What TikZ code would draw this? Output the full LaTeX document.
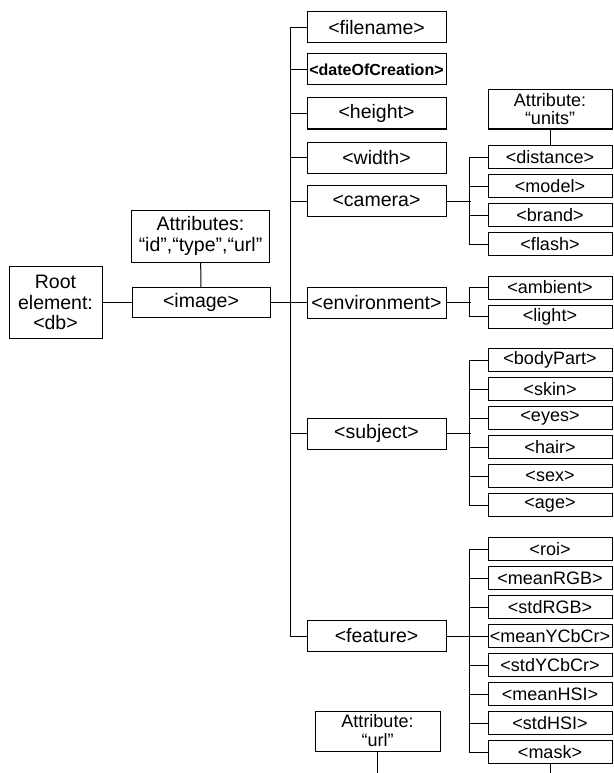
\documentclass[tikz,border=0pt]{standalone}
\usepackage{fontspec}
\setmainfont{Liberation Sans}
\usetikzlibrary{positioning}

\begin{document}
\begin{tikzpicture}[x=1pt, y=-1pt, line width=1pt, node distance=5pt,
  every node/.style={font=\fontsize{19.5}{20.5}\selectfont},
  elem/.style={draw, inner sep=0pt, minimum width=139pt, minimum height=31pt, align=center},
  leaf/.style={draw, inner sep=0pt, minimum width=124pt, minimum height=23pt, font=\fontsize{18}{18}\selectfont},
  attrbox/.style={draw, inner sep=0pt, align=center}]
\useasboundingbox (0,0) rectangle (613,773);

% root, attributes and image
\node[attrbox, minimum width=93pt, minimum height=72pt] (root) at (55.5,302.5) {Root\\element:\\<db>};
\node[attrbox, minimum width=138pt, minimum height=52pt] (attr) at (200.5,236) {Attributes:\\“id”,“type”,“url”};
\node[elem, minimum width=138pt, minimum height=30pt] (img) at (201,302.5) {<image>};

% children of image
\node[elem] (fn) at (376.5,27.5) {<filename>};
\node[elem, font=\bfseries\fontsize{16}{18}\selectfont] (doc) at (376.5,69.5) {<dateOfCreation>};
\node[elem] (hgt) at (376.5,113.5) {<height>};
\node[elem] (wid) at (376.5,157.5) {<width>};
\node[elem] (cam) at (376.5,201) {<camera>};
\node[elem] (env) at (376.5,302.5) {<environment>};
\node[elem] (subj) at (376.5,433.5) {<subject>};
\node[elem] (feat) at (376.5,636) {<feature>};

% camera
\node[attrbox, minimum width=124pt, minimum height=39pt, font=\fontsize{18}{18}\selectfont] (units) at (550,109.5) {Attribute:\\“units”};
\node[leaf] (dist) at (550,157) {<distance>};
\node[leaf, below=of dist] (model) {<model>};
\node[leaf, below=of model] (brand) {<brand>};
\node[leaf, below=of brand] (flash) {<flash>};

% environment
\node[leaf] (amb) at (550,287.5) {<ambient>};
\node[leaf, below=of amb] (light) {<light>};

% subject
\node[leaf] (body) at (550,360) {<bodyPart>};
\node[leaf, below=of body] (skin) {<skin>};
\node[leaf, below=of skin] (eyes) {<eyes>};
\node[leaf, below=of eyes] (hair) {<hair>};
\node[leaf, below=of hair] (sex) {<sex>};
\node[leaf, below=of sex] (age) {<age>};

% feature
\node[leaf] (roi) at (550,549) {<roi>};
\node[leaf, below=of roi] (mrgb) {<meanRGB>};
\node[leaf, below=of mrgb] (srgb) {<stdRGB>};
\node[leaf, below=of srgb] (mycc) {<meanYCbCr>};
\node[leaf, below=of mycc] (sycc) {<stdYCbCr>};
\node[leaf, below=of sycc] (mhsi) {<meanHSI>};
\node[leaf, below=of mhsi] (shsi) {<stdHSI>};
\node[leaf, below=of shsi] (mask) {<mask>};

\node[attrbox, minimum width=125pt, minimum height=40pt, font=\fontsize{18}{19}\selectfont] (url) at (377.5,731) {Attribute:\\“url”};
\coordinate (urlend) at (377.5,773);
\coordinate (maskend) at (550,773);

% connectors
\draw (root) -- (img);
\draw (attr) -- (img);
\draw (img) -- (env);
\draw (fn.west) -- ++(-16,0) |- (feat.west);
\draw (doc.west) -- ++(-16,0);
\draw (hgt.west) -- ++(-16,0);
\draw (wid.west) -- ++(-16,0);
\draw (cam.west) -- ++(-16,0);
\draw (subj.west) -- ++(-16,0);

\draw (cam.east) -- ++(24,0);
\draw (units) -- (dist);
\draw (dist.west) -- ++(-18,0) |- (flash.west);
\draw (model.west) -- ++(-18,0);
\draw (brand.west) -- ++(-18,0);

\draw (env.east) -- ++(24,0);
\draw (amb.west) -- ++(-18,0) |- (light.west);

\draw (subj.east) -- ++(24,0);
\draw (body.west) -- ++(-18,0) |- (age.west);
\draw (skin.west) -- ++(-18,0);
\draw (eyes.west) -- ++(-18,0);
\draw (hair.west) -- ++(-18,0);
\draw (sex.west) -- ++(-18,0);

\draw (feat.east) -- ++(24,0);
\draw (roi.west) -- ++(-18,0) |- (mask.west);
\draw (mrgb.west) -- ++(-18,0);
\draw (srgb.west) -- ++(-18,0);
\draw (mycc.west) -- ++(-18,0);
\draw (sycc.west) -- ++(-18,0);
\draw (mhsi.west) -- ++(-18,0);
\draw (shsi.west) -- ++(-18,0);

\draw (url) -- (urlend);
\draw (mask) -- (maskend);
\end{tikzpicture}
\end{document}
